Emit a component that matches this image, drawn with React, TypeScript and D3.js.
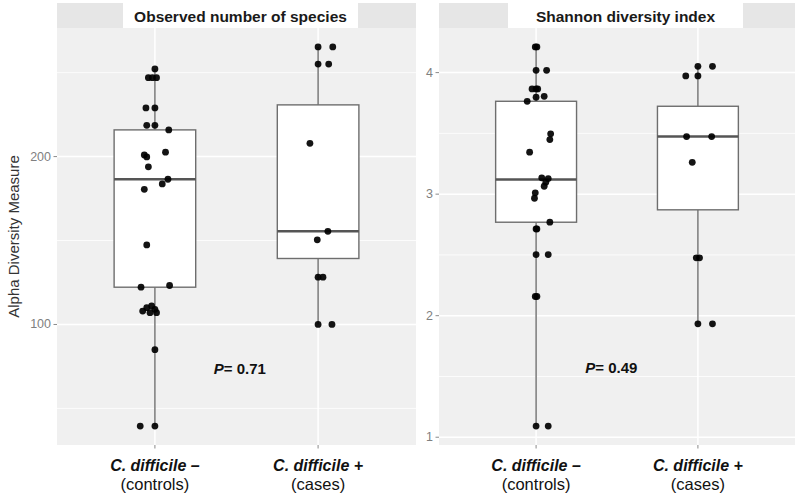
import React from "react";
import * as d3 from "d3";

// ---------- data ----------
const groupLabels = ["C. difficile –", "C. difficile +"];
const groupSubLabels = ["(controls)", "(cases)"];
const panelTitles = ["Observed number of species", "Shannon diversity index"];
const pValueLabels = ["0.71", "0.49"];

// Observed number of species
const obsControls = [252.2, 247, 247, 247, 229, 229, 218.6, 218.6, 215.9, 201, 199.8, 202.6, 193.9, 186.5, 183.7, 180.5, 147.4, 122.2, 123.2, 111, 110, 109, 108, 107, 107, 85, 39.5, 39.5];
const obsControlsJitter = [0, -0.04, 0.01, -0.015, -0.055, 0, -0.05, 0, 0.085, -0.065, -0.05, 0.065, -0.04, 0.08, 0.045, -0.065, -0.05, -0.085, 0.09, -0.02, -0.05, 0, -0.075, -0.03, 0.01, 0, -0.09, 0];
const obsCases = [265.3, 265.3, 255.1, 255.1, 207.9, 155.5, 150.4, 128.2, 128.2, 100, 100];
const obsCasesJitter = [0, 0.09, 0, 0.065, -0.05, 0.06, -0.005, 0, 0.03, 0, 0.085];
const obsQ1 = [122.2, 139.3];
const obsMedian = [186.5, 155.5];
const obsQ3 = [215.9, 230.8];
const obsWhiskerLow = [39.5, 100];
const obsWhiskerHigh = [252.2, 265.3];
const obsMajorTicks = [100, 200];
const obsMinorTicks = [50, 150, 250];
const obsPLabelPos = [1.52, 74];

// Shannon diversity index
const shaControls = [4.211, 4.211, 4.019, 4.019, 3.866, 3.866, 3.866, 3.797, 3.805, 3.764, 3.496, 3.449, 3.345, 3.134, 3.128, 3.098, 3.065, 3.011, 2.966, 2.769, 2.714, 2.714, 2.503, 2.503, 2.158, 2.158, 1.092, 1.092];
const shaControlsJitter = [-0.005, 0.005, 0, 0.065, -0.025, 0, 0.01, 0, 0.05, -0.055, 0.09, 0.085, -0.04, 0.035, 0.075, 0.06, 0.05, -0.005, -0.01, 0.085, 0, 0.005, 0, 0.075, -0.005, 0.005, 0, 0.075];
const shaCases = [4.052, 4.052, 3.973, 3.973, 3.474, 3.474, 3.262, 2.476, 2.476, 1.933, 1.933];
const shaCasesJitter = [0, 0.09, -0.075, 0, -0.07, 0.085, -0.035, -0.01, 0.01, 0, 0.09];
const shaQ1 = [2.769, 2.871];
const shaMedian = [3.12, 3.474];
const shaQ3 = [3.764, 3.723];
const shaWhiskerLow = [1.092, 1.933];
const shaWhiskerHigh = [4.211, 4.052];
const shaMajorTicks = [1, 2, 3, 4];
const shaMinorTicks = [1.5, 2.5, 3.5];
const shaPLabelPos = [1.465, 1.574];

// ---------- layout ----------
const W = 800;
const H = 495;
const panelTop = 28;
const panelBottom = 445;
const stripTop = 3;
const FONT = "'Liberation Sans', Arial, Helvetica, sans-serif";

type PanelDef = {
  x0: number;
  x1: number;
  title: string;
  titleBox: [number, number];
  groups: number[][];
  jitters: number[][];
  q1: number[];
  med: number[];
  q3: number[];
  lo: number[];
  hi: number[];
  major: number[];
  minor: number[];
  p: string;
  pPos: number[];
};

const panels: PanelDef[] = [
  {
    x0: 57, x1: 416, title: panelTitles[0], titleBox: [123, 358],
    groups: [obsControls, obsCases], jitters: [obsControlsJitter, obsCasesJitter],
    q1: obsQ1, med: obsMedian, q3: obsQ3, lo: obsWhiskerLow, hi: obsWhiskerHigh,
    major: obsMajorTicks, minor: obsMinorTicks, p: pValueLabels[0], pPos: obsPLabelPos,
  },
  {
    x0: 439, x1: 795, title: panelTitles[1], titleBox: [508, 743],
    groups: [shaControls, shaCases], jitters: [shaControlsJitter, shaCasesJitter],
    q1: shaQ1, med: shaMedian, q3: shaQ3, lo: shaWhiskerLow, hi: shaWhiskerHigh,
    major: shaMajorTicks, minor: shaMinorTicks, p: pValueLabels[1], pPos: shaPLabelPos,
  },
];

function Panel({ d }: { d: PanelDef }) {
  const all = d.groups.flat();
  const [mn, mx] = d3.extent(all) as [number, number];
  const pad = (mx - mn) * 0.05;
  const y = d3.scaleLinear().domain([mn - pad, mx + pad]).range([panelBottom, panelTop]);
  const x = d3.scaleLinear().domain([0.4, 2.6]).range([d.x0, d.x1]);
  const step = x(2) - x(1);
  const boxHalf = step * 0.25;
  const boxStroke = "#6e6e6e";

  return (
    <g>
      {/* strip */}
      <rect x={d.x0} y={stripTop} width={d.x1 - d.x0} height={panelTop - stripTop} fill="#e6e6e6" />
      <rect x={d.titleBox[0]} y={0} width={d.titleBox[1] - d.titleBox[0]} height={panelTop + 1} fill="#ffffff" />
      <text
        x={(d.titleBox[0] + d.titleBox[1]) / 2}
        y={(stripTop + panelTop) / 2 + 1}
        textAnchor="middle"
        dominantBaseline="central"
        fontFamily={FONT}
        fontWeight="bold"
        fontSize={15.5}
        fill="#1a1a1a"
      >
        {d.title}
      </text>
      {/* panel background */}
      <rect x={d.x0} y={panelTop} width={d.x1 - d.x0} height={panelBottom - panelTop} fill="#f0f0f0" />
      {/* minor grid */}
      {d.minor.map((t) => (
        <line key={"mi" + t} x1={d.x0} x2={d.x1} y1={y(t)} y2={y(t)} stroke="#ffffff" strokeWidth={0.8} />
      ))}
      {/* major grid */}
      {d.major.map((t) => (
        <line key={"ma" + t} x1={d.x0} x2={d.x1} y1={y(t)} y2={y(t)} stroke="#ffffff" strokeWidth={1.5} />
      ))}
      {[1, 2].map((c) => (
        <line key={"vx" + c} x1={x(c)} x2={x(c)} y1={panelTop} y2={panelBottom} stroke="#ffffff" strokeWidth={1.5} />
      ))}
      {/* y ticks */}
      {d.major.map((t) => (
        <g key={"yt" + t}>
          <line x1={d.x0 - 3.5} x2={d.x0} y1={y(t)} y2={y(t)} stroke="#8a8a8a" strokeWidth={1} />
          <text
            x={d.x0 - 6}
            y={y(t)}
            textAnchor="end"
            dominantBaseline="central"
            fontFamily={FONT}
            fontSize={12.5}
            fill="#808080"
          >
            {t}
          </text>
        </g>
      ))}
      {/* x ticks and labels */}
      {[1, 2].map((c, i) => (
        <g key={"xt" + c}>
          <line x1={x(c)} x2={x(c)} y1={panelBottom} y2={panelBottom + 3.5} stroke="#8a8a8a" strokeWidth={1} />
          <text
            x={x(c)}
            y={465}
            textAnchor="middle"
            dominantBaseline="central"
            fontFamily={FONT}
            fontWeight="bold"
            fontStyle="italic"
            fontSize={16}
            fill="#111"
          >
            {groupLabels[i]}
          </text>
          <text
            x={x(c)}
            y={483.5}
            textAnchor="middle"
            dominantBaseline="central"
            fontFamily={FONT}
            fontSize={16.5}
            fill="#111"
          >
            {groupSubLabels[i]}
          </text>
        </g>
      ))}
      {/* boxplots */}
      {[1, 2].map((c, i) => (
        <g key={"bx" + c}>
          <line x1={x(c)} x2={x(c)} y1={y(d.hi[i])} y2={y(d.q3[i])} stroke={boxStroke} strokeWidth={1.4} />
          <line x1={x(c)} x2={x(c)} y1={y(d.q1[i])} y2={y(d.lo[i])} stroke={boxStroke} strokeWidth={1.4} />
          <rect
            x={x(c) - boxHalf}
            y={y(d.q3[i])}
            width={boxHalf * 2}
            height={y(d.q1[i]) - y(d.q3[i])}
            fill="#ffffff"
            stroke={boxStroke}
            strokeWidth={1.4}
          />
          <line
            x1={x(c) - boxHalf}
            x2={x(c) + boxHalf}
            y1={y(d.med[i])}
            y2={y(d.med[i])}
            stroke="#555555"
            strokeWidth={2.4}
          />
        </g>
      ))}
      {/* points */}
      {d.groups.map((vals, gi) =>
        vals.map((v, k) => (
          <circle
            key={"pt" + gi + "_" + k}
            cx={x(gi + 1 + d.jitters[gi][k])}
            cy={y(v)}
            r={3.4}
            fill="#000000"
            fillOpacity={0.92}
          />
        ))
      )}
      {/* p-value */}
      <text
        x={x(d.pPos[0])}
        y={y(d.pPos[1])}
        textAnchor="middle"
        dominantBaseline="central"
        fontFamily={FONT}
        fontWeight="bold"
        fontSize={15}
        fill="#111"
      >
        <tspan fontStyle="italic">P</tspan>
        <tspan>{"= " + d.p}</tspan>
      </text>
    </g>
  );
}

export default function App() {
  return (
    <svg
      width={W}
      height={H}
      viewBox={`0 0 ${W} ${H}`}
      style={{ position: "absolute", left: 0, top: 0, background: "#ffffff" }}
    >
      <rect x={0} y={0} width={W} height={H} fill="#ffffff" />
      {panels.map((p, i) => (
        <Panel key={i} d={p} />
      ))}
      <text
        transform={`translate(13, ${(panelTop + panelBottom) / 2}) rotate(-90)`}
        textAnchor="middle"
        dominantBaseline="central"
        fontFamily={FONT}
        fontSize={15}
        fill="#333333"
      >
        Alpha Diversity Measure
      </text>
    </svg>
  );
}
